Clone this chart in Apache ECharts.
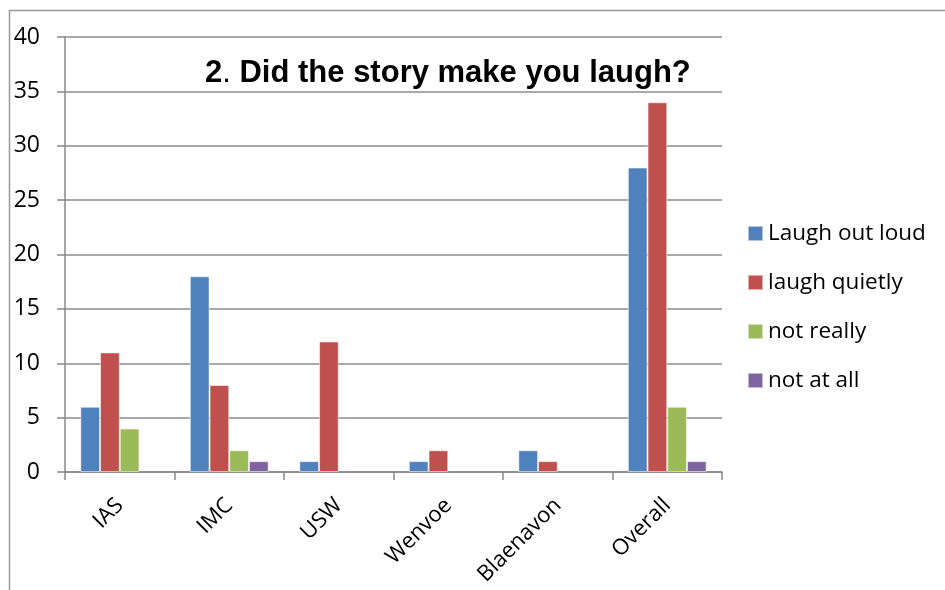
<!DOCTYPE html>
<html><head><meta charset="utf-8">
<script src="https://cdn.jsdelivr.net/npm/echarts@6/dist/echarts.min.js"></script>
<style>html,body{margin:0;padding:0;background:#fff}#c{width:945px;height:590px}</style>
</head><body><div id="c"></div>
<script>
const categories = ['IAS','IMC','USW','Wenvoe','Blaenavon','Overall'];
const seriesNames = ['Laugh out loud','laugh quietly','not really','not at all'];
const laughOutLoud = [6,18,1,1,2,28];
const laughQuietly = [11,8,12,2,1,34];
const notReally = [4,2,0,0,0,6];
const notAtAll = [0,1,0,0,0,1];
const yTicks = [0,5,10,15,20,25,30,35,40];
const colors = ['#4F81BD','#C0504D','#9BBB59','#8064A2'];
const values = [laughOutLoud, laughQuietly, notReally, notAtAll];

const chart = echarts.init(document.getElementById('c'), null, {renderer:'canvas'});
const font = 'Open Sans';
chart.setOption({
  animation:false,
  color: colors,
  title:{text:'{a|2}{b|.}{a| Did the story make you laugh?}', left:205, top:58, padding:0,
    textStyle:{rich:{
      a:{fontFamily:'Liberation Sans', fontWeight:'bold', fontSize:31, color:'#000'},
      b:{fontFamily:'Liberation Sans', fontWeight:'normal', fontSize:31, color:'#000'}
    }}},
  graphic:[{type:'rect', shape:{x:9.5,y:10.5,width:1000,height:1000}, style:{fill:'none', stroke:'#999', lineWidth:1.5}}],
  legend:{orient:'vertical', left:747, top:222, padding:0, itemWidth:15, itemHeight:15, itemGap:26,
    icon:'rect', data:seriesNames,
    textStyle:{fontFamily:font, fontSize:22.5, color:'#000', lineHeight:20}},
  grid:{left:65, right:223, top:37, bottom:118, containLabel:false},
  xAxis:{type:'category', data:categories,
    axisLine:{lineStyle:{color:'#888', width:1.5}},
    axisTick:{show:true, length:8, lineStyle:{color:'#888', width:1.5}},
    axisLabel:{rotate:45, margin:30, fontFamily:font, fontSize:22, color:'#000'}},
  yAxis:{type:'value', min:0, max:40, interval:5,
    axisLine:{show:true, lineStyle:{color:'#888', width:1.5}},
    axisTick:{show:true, length:8, lineStyle:{color:'#888', width:1.5}},
    splitLine:{lineStyle:{color:'#8c8c8c', width:1.5}},
    axisLabel:{margin:25, fontFamily:font, fontSize:23, color:'#000',
      formatter:v=> yTicks.includes(v) ? String(v) : ''}},
  series: seriesNames.map((n,i)=>({
    name:n, type:'bar', data:values[i].map(v=> v===0 ? null : v), barGap:'0%', barCategoryGap:'28%',
    itemStyle:{color:colors[i], borderColor:'rgba(255,255,255,0.55)', borderWidth:1}
  }))
});
</script></body></html>
